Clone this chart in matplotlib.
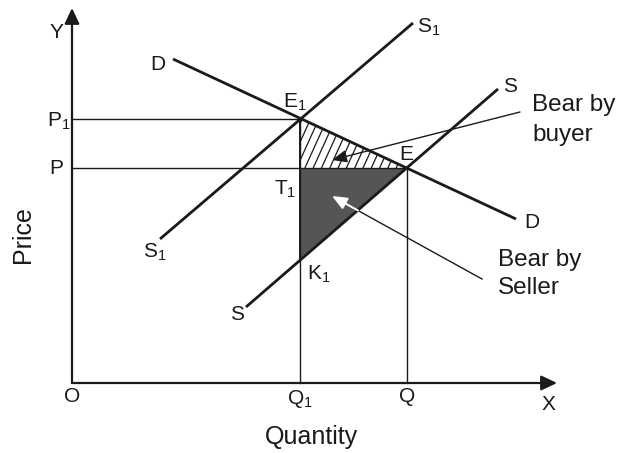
import numpy as np
import matplotlib.pyplot as plt
from matplotlib.patches import Polygon

plt.rcParams['font.family'] = ['Liberation Sans', 'DejaVu Sans']
plt.rcParams['mathtext.default'] = 'regular'

# market values (diagram units, origin at O)
Q1, Q = 228, 335
P1, P = 264, 215
K1 = 124

demand_x = [101, 444]
demand_y = [324, 164]
s1_x = [88, 341]
s1_y = [144, 360]
s_x = [174, 426]
s_y = [76, 294]

INK = '#1a1a1a'

fig = plt.figure(figsize=(6.18, 4.53), dpi=100)
ax = fig.add_axes([0, 0, 1, 1])
ax.set_xlim(-72, 546)
ax.set_ylim(-70, 383)
ax.axis('off')

# axes with arrows
head = '-|>,head_length=0.95,head_width=0.45'
ax.annotate('', xy=(0, 375), xytext=(0, 0),
            arrowprops=dict(arrowstyle=head, color=INK, lw=1.6, shrinkA=0, shrinkB=0))
ax.annotate('', xy=(485, 0), xytext=(0, 0),
            arrowprops=dict(arrowstyle=head, color=INK, lw=1.6, shrinkA=0, shrinkB=0))

# burden borne by seller
ax.add_patch(Polygon([(Q1, P), (Q, P), (Q1, K1)], closed=True,
                     facecolor='#555555', edgecolor='none'))

# burden borne by buyer, steep hatch
tri = Polygon([(Q1, P1), (Q1, P), (Q, P)], closed=True,
              facecolor='none', edgecolor='none')
ax.add_patch(tri)
for x0 in np.arange(Q1 - 20, Q + 5, 8.3):
    ln, = ax.plot([x0, x0 + 30], [P, P + 66], color=INK, lw=0.9)
    ln.set_clip_path(tri)

# guide lines
ax.plot([0, Q1], [P1, P1], color=INK, lw=1.0)
ax.plot([0, Q], [P, P], color=INK, lw=1.0)
ax.plot([Q1, Q1], [0, P1], color=INK, lw=1.0)
ax.plot([Q, Q], [0, P], color=INK, lw=1.0)
ax.plot([Q1, Q1], [K1, P1], color=INK, lw=1.4)

# curves
ax.plot(demand_x, demand_y, color=INK, lw=2.0, solid_capstyle='butt')
ax.plot(s1_x, s1_y, color=INK, lw=2.0, solid_capstyle='butt')
ax.plot(s_x, s_y, color=INK, lw=2.0, solid_capstyle='butt')

fs = 15
def label(x, y, s, size=fs, **kw):
    ax.text(x, y, s, fontsize=size, color=INK, ha='center', va='center', **kw)

label(-16, 351, 'Y')
label(0, -14, 'O')
label(Q1, -16, r'$Q_1$')
label(Q, -14, 'Q')
label(476, -21, 'X')
label(239, -54, 'Quantity', size=18)
label(-49, 148, 'Price', size=18, rotation=90)
label(-13, 262, r'$P_1$')
label(-16, 215, 'P')
label(86, 318, 'D')
label(223, 281, r'$E_1$')
label(357, 356, r'$S_1$')
label(438, 297, 'S')
label(334, 229, 'E')
label(213, 194, r'$T_1$')
label(460, 161, 'D')
label(83, 131, r'$S_1$')
label(247, 109, r'$K_1$')
label(165, 68, 'S')

bs = 17.5
ax.text(460, 278, 'Bear by', fontsize=bs, color=INK, ha='left', va='center')
ax.text(460, 248, 'buyer', fontsize=bs, color=INK, ha='left', va='center')
ax.text(426, 123, 'Bear by', fontsize=bs, color=INK, ha='left', va='center')
ax.text(426, 95, 'Seller', fontsize=bs, color=INK, ha='left', va='center')

# pointers
ax.annotate('', xy=(260, 223), xytext=(448, 271),
            arrowprops=dict(arrowstyle='-|>,head_length=0.9,head_width=0.38',
                            color=INK, lw=1.0, shrinkA=0, shrinkB=0))
ax.plot([285, 410], [173, 104], color=INK, lw=1.0)
ax.annotate('', xy=(260, 187), xytext=(286, 172.5),
            arrowprops=dict(arrowstyle='-|>,head_length=0.9,head_width=0.38',
                            color='white', lw=1.4, shrinkA=0, shrinkB=0))

fig.savefig('out.png', dpi=100)
